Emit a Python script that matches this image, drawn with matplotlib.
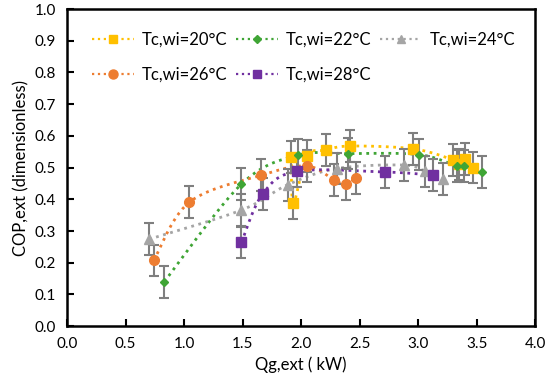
import numpy as np
import matplotlib
matplotlib.use("Agg")
import matplotlib.pyplot as plt
from matplotlib.lines import Line2D

plt.rcParams['font.family'] = ['Lato', 'DejaVu Sans']

# Qg,ext (kW) and COP,ext for each chilled water inlet temperature
x20 = [1.915, 1.934, 2.05, 2.21, 2.42, 2.96, 3.30, 3.35, 3.40, 3.47]
y20 = [0.534, 0.389, 0.536, 0.555, 0.568, 0.559, 0.524, 0.510, 0.526, 0.500]
x22 = [0.83, 1.49, 1.97, 2.40, 3.006, 3.33, 3.39, 3.545]
y22 = [0.140, 0.448, 0.539, 0.544, 0.541, 0.505, 0.505, 0.485]
x24 = [0.70, 1.49, 1.886, 2.305, 2.875, 3.06, 3.21]
y24 = [0.274, 0.366, 0.446, 0.497, 0.508, 0.488, 0.464]
x26 = [0.74, 1.045, 1.66, 2.05, 2.285, 2.38, 2.47]
y26 = [0.207, 0.391, 0.476, 0.505, 0.460, 0.448, 0.468]
x28 = [1.49, 1.67, 1.963, 2.72, 3.13]
y28 = [0.264, 0.416, 0.488, 0.486, 0.476]
err = 0.05

labels = ['Tc,wi=20°C', 'Tc,wi=22°C', 'Tc,wi=24°C', 'Tc,wi=26°C', 'Tc,wi=28°C']
colors = ['#FFC000', '#3FA535', '#A5A5A5', '#ED7D31', '#7030A0']
markers = ['s', 'D', '^', 'o', 's']
msizes = [6.5, 4.5, 6.5, 7, 6.5]


def smooth(x, y, n=30):
    # excel-like smoothed line (catmull-rom through the points)
    p = np.column_stack([x, y])
    p = np.vstack([p[0], p, p[-1]])
    t = np.linspace(0, 1, n)[:, None]
    out = []
    for i in range(1, len(p) - 2):
        p0, p1, p2, p3 = p[i - 1], p[i], p[i + 1], p[i + 2]
        seg = 0.5 * ((2 * p1) + (-p0 + p2) * t + (2 * p0 - 5 * p1 + 4 * p2 - p3) * t ** 2
                     + (-p0 + 3 * p1 - 3 * p2 + p3) * t ** 3)
        out.append(seg)
    out = np.vstack(out)
    return out[:, 0], out[:, 1]


fig = plt.figure(figsize=(5.5, 3.92), dpi=100)
ax = fig.add_axes([0.122, 0.168, 0.851, 0.809])

series = [(x20, y20), (x22, y22), (x24, y24), (x26, y26), (x28, y28)]
handles = []
for (xs, ys), c, m, ms, lab in zip(series, colors, markers, msizes, labels):
    sx, sy = smooth(xs, ys)
    ax.plot(sx, sy, linestyle=':', color=c, linewidth=2, zorder=2)
    ax.errorbar(xs, ys, yerr=err, fmt='none', ecolor='#7F7F7F', elinewidth=1.5,
                capsize=3.5, capthick=1.5, zorder=3)
    ax.plot(xs, ys, linestyle='none', marker=m, markersize=ms, color=c, zorder=4)
    handles.append(Line2D([], [], linestyle=':', linewidth=1.6, color=c, marker=m, markersize=ms - 0.5))

ax.set_xlim(0, 4.0)
ax.set_ylim(0, 1.0)
ax.set_xticks(np.arange(0, 4.01, 0.5))
ax.set_yticks(np.arange(0, 1.01, 0.1))
ax.set_xticklabels(['%.1f' % v for v in np.arange(0, 4.01, 0.5)])
ax.set_yticklabels(['%.1f' % v for v in np.arange(0, 1.01, 0.1)])
ax.tick_params(direction='in', length=5, width=1.5, labelsize=11, colors='black', pad=8)
for s in ax.spines.values():
    s.set_linewidth(1.8)

ax.set_xlabel('Qg,ext ( kW)', fontsize=12, labelpad=4)
ax.set_ylabel('COP,ext (dimensionless)', fontsize=12, labelpad=4)

# legend fills column by column, so reorder to get rows 20/22/24 and 26/28
order = [0, 3, 1, 4, 2]
ax.legend([handles[i] for i in order], [labels[i] for i in order], ncol=3,
          frameon=False, loc='upper left', bbox_to_anchor=(0.025, 0.97),
          fontsize=12, handlelength=2.5, numpoints=1, columnspacing=0.5,
          handletextpad=0.5, labelspacing=1.15, borderpad=0.3)

fig.savefig('out.png', dpi=100)
